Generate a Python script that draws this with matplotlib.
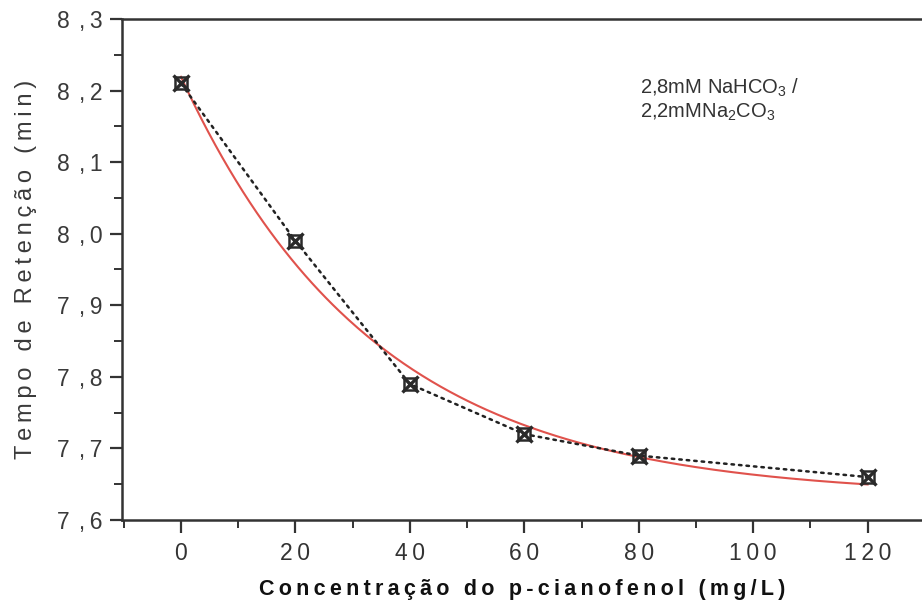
import numpy as np
import matplotlib
matplotlib.use("Agg")
import matplotlib.pyplot as plt
from matplotlib.ticker import MultipleLocator, FixedLocator

plt.rcParams["font.family"] = ["Liberation Sans", "DejaVu Sans"]
plt.rcParams["mathtext.fontset"] = "custom"
plt.rcParams["mathtext.rm"] = "Liberation Sans"
plt.rcParams["mathtext.it"] = "Liberation Sans:italic"

# data
conc = np.array([0, 20, 40, 60, 80, 120])          # p-cianofenol (mg/L)
ret_time = np.array([8.21, 7.99, 7.79, 7.72, 7.69, 7.66])  # min
x_ticks = [0, 20, 40, 60, 80, 100, 120]
y_ticks = [7.6, 7.7, 7.8, 7.9, 8.0, 8.1, 8.2, 8.3]
note = "2,8mM NaHCO$_3$ /\n2,2mMNa$_2$CO$_3$"

TS = "\u2009"  # thin space, used to mimic the wide letter spacing


def spaced(text):
    return TS.join(text)


def exp_fit(x, y):
    # y = y0 + A*exp(-x/t), grid over t and linear least squares for y0, A
    best = None
    for t in np.linspace(5, 200, 2000):
        M = np.column_stack([np.ones_like(x, dtype=float), np.exp(-x / t)])
        coef, *_ = np.linalg.lstsq(M, y, rcond=None)
        err = np.sum((M @ coef - y) ** 2)
        if best is None or err < best[0]:
            best = (err, t, coef)
    return best[1], best[2]


fig = plt.figure(figsize=(9.22, 6.01), dpi=100)
ax = fig.add_axes([122 / 922, 81 / 601, 800 / 922, 501 / 601])

t, (y0, a) = exp_fit(conc.astype(float), ret_time)
xs = np.linspace(conc.min(), conc.max(), 300)
ax.plot(xs, y0 + a * np.exp(-xs / t), color="#e0524c", lw=1.5, zorder=2)

ax.plot(conc, ret_time, color="#222222", lw=1.8, linestyle=(0, (1, 2)),
        dash_capstyle="round", zorder=3)
ax.plot(conc, ret_time, linestyle="none", marker="s", ms=9, mfc="none",
        mec="#2a2a2a", mew=1.8, zorder=4)
ax.plot(conc, ret_time, linestyle="none", marker="x", ms=11,
        mec="#2a2a2a", mew=2.4, zorder=4)

ax.set_xlim(-10.3, 129.5)
ax.set_ylim(7.6, 8.3)

ax.xaxis.set_major_locator(FixedLocator(x_ticks))
ax.xaxis.set_minor_locator(MultipleLocator(10))
ax.yaxis.set_major_locator(FixedLocator(y_ticks))
ax.yaxis.set_minor_locator(MultipleLocator(0.05))
ax.set_xticklabels([spaced(str(v)) for v in x_ticks])
ax.set_yticklabels([spaced(f"{v:.1f}").replace(".", TS + ",") for v in y_ticks])

ax.tick_params(axis="both", which="major", length=9, width=1.6, direction="out",
               colors="#333333", pad=5)
ax.tick_params(axis="both", which="minor", length=6, width=1.4, direction="out",
               colors="#333333")
ax.tick_params(axis="y", labelsize=16.5, labelcolor="#3a3a3a")
ax.tick_params(axis="x", labelsize=16.5, labelcolor="#333333", pad=7)

for side in ["left", "bottom", "top"]:
    ax.spines[side].set_linewidth(1.8)
    ax.spines[side].set_color("#333333")
ax.spines["right"].set_visible(False)

ax.set_xlabel(spaced("Concentração do p-cianofenol (mg/L)"), fontsize=15.5,
              fontweight="semibold", color="#111111", labelpad=10)
ax.set_ylabel(spaced("Tempo de Retenção (min)"), fontsize=17, color="#3a3a3a",
              labelpad=14)

ax.text(0.648, 0.885, note, transform=ax.transAxes, fontsize=14.5,
        color="#333333", va="top", ha="left", linespacing=1.2)

fig.savefig("out.png", dpi=100)
